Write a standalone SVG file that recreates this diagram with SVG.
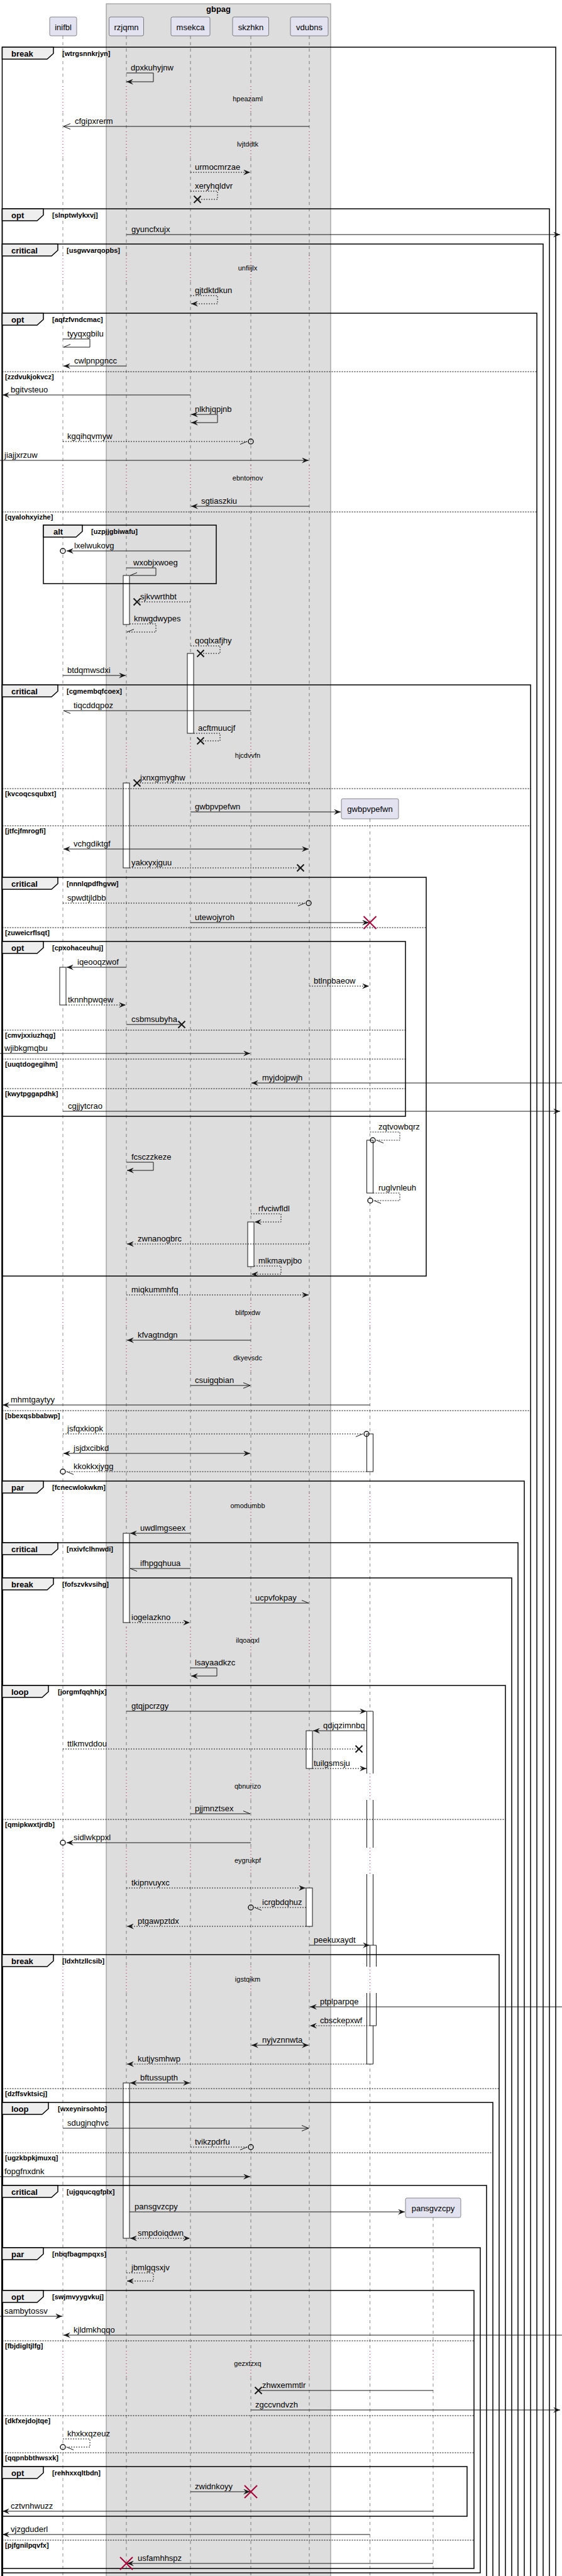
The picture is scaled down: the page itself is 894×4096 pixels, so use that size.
<svg xmlns="http://www.w3.org/2000/svg" width="894" height="4096" viewBox="0 0 894 4096">
<style>
text{font-family:"Liberation Sans",Arial,sans-serif;fill:#000}
.p{font-size:13px;text-anchor:middle}
.m{font-size:13px}
.d{font-size:11px;text-anchor:middle}
.k{font-size:13px;font-weight:bold}
.g{font-size:11px;font-weight:bold}
.pb{fill:#E2E2F0;stroke:#181818;stroke-width:0.5}
.ll{stroke:#181818;stroke-width:0.5;stroke-dasharray:5,5;fill:none}
.dl{stroke:#A80036;stroke-width:1;stroke-dasharray:1,4;fill:none}
.fr{fill:none;stroke:#000;stroke-width:1.5}
.tab{fill:#EEEEEE;stroke:#000;stroke-width:1.5}
.sep{stroke:#000;stroke-width:1;stroke-dasharray:2,2;fill:none}
.ms{fill:none;stroke:#181818;stroke-width:1}
.ds{stroke-dasharray:2,2}
.af{fill:#fff;stroke:none}
.as{fill:none;stroke:#181818;stroke-width:1}
.x{stroke:#181818;stroke-width:2;fill:none}
.rx{stroke:#A80036;stroke-width:2;fill:none}
.c{fill:none;stroke:#181818;stroke-width:1.5}
</style>
<defs>
<marker id="f" viewBox="0 0 11 9" refX="11" refY="4.5" markerWidth="11" markerHeight="9" markerUnits="userSpaceOnUse" orient="auto-start-reverse"><path d="M0,0L11,4.5L0,9L4,4.5Z" fill="#181818"/></marker>
<marker id="o" viewBox="0 0 11 9" refX="11" refY="4.5" markerWidth="11" markerHeight="9" markerUnits="userSpaceOnUse" orient="auto" style="overflow:visible"><path d="M0,0L11,4.5L0,9" fill="none" stroke="#181818" stroke-width="1"/></marker>
<marker id="hu" viewBox="0 0 11 9" refX="11" refY="4.5" markerWidth="11" markerHeight="9" markerUnits="userSpaceOnUse" orient="auto" style="overflow:visible"><path d="M0,0L11,4.5" fill="none" stroke="#181818" stroke-width="1"/></marker>
<marker id="hl" viewBox="0 0 11 9" refX="11" refY="4.5" markerWidth="11" markerHeight="9" markerUnits="userSpaceOnUse" orient="auto" style="overflow:visible"><path d="M0,9L11,4.5" fill="none" stroke="#181818" stroke-width="1"/></marker>
<path id="lm" d="M0,57V137M0,179V209M0,251V406M0,448V740M0,782V1181M0,1223V2067M0,2109V2139M0,2181V2374M0,2416V2588M0,2630V2820M0,2862V2938M0,2980V3127M0,3169V3738M0,3780V4096"/>
<path id="dm" d="M0,137V179M0,209V251M0,406V448M0,740V782M0,1181V1223M0,2067V2109M0,2139V2181M0,2374V2416M0,2588V2630M0,2820V2862M0,2938V2980M0,3127V3169M0,3738V3780"/>
<path id="lg" d="M0,1302V2067M0,2109V2139M0,2181V2374M0,2416V2588M0,2630V2820M0,2862V2938M0,2980V3127M0,3169V3738M0,3780V4096"/>
<path id="dg" d="M0,2067V2109M0,2139V2181M0,2374V2416M0,2588V2630M0,2820V2862M0,2938V2980M0,3127V3169M0,3738V3780"/>
</defs>
<rect width="894" height="4096" fill="#fff"/>
<g id="gbpag">
<rect x="169" y="6" width="357" height="4100" fill="#DDDDDD" stroke="#888" stroke-width="1"/>
<text class="k" x="347.5" y="19" text-anchor="middle">gbpag</text>
</g>
<g id="lifelines">
<use href="#lm" x="100" class="ll"/>
<use href="#lm" x="201" class="ll"/>
<use href="#lm" x="303" class="ll"/>
<use href="#lm" x="399" class="ll"/>
<use href="#lm" x="492" class="ll"/>
<use href="#lg" x="588.5" class="ll"/>
<path class="ll" d="M689,3526V3738M689,3780V4096"/>
</g>
<g id="inifbl"><rect class="pb" x="79" y="27" width="43" height="30" rx="2.5"/><text class="p" x="100.5" y="48">inifbl</text></g>
<g id="rzjqmn"><rect class="pb" x="173.5" y="27" width="55" height="30" rx="2.5"/><text class="p" x="201" y="48">rzjqmn</text></g>
<g id="msekca"><rect class="pb" x="272" y="27" width="62" height="30" rx="2.5"/><text class="p" x="303" y="48">msekca</text></g>
<g id="skzhkn"><rect class="pb" x="370" y="27" width="57.5" height="30" rx="2.5"/><text class="p" x="399" y="48">skzhkn</text></g>
<g id="vdubns"><rect class="pb" x="462" y="27" width="60" height="30" rx="2.5"/><text class="p" x="492" y="48">vdubns</text></g>
<g id="gwbpvpefwn"><rect class="pb" x="543" y="1270" width="91" height="32" rx="2.5"/><text class="p" x="588.5" y="1291">gwbpvpefwn</text></g>
<g id="pansgvzcpy"><rect class="pb" x="645" y="3495" width="88" height="31" rx="2.5"/><text class="p" x="689" y="3516">pansgvzcpy</text></g>
<g id="activations">
<rect class="af" x="196" y="915" width="10" height="78"/><rect class="as" x="196" y="915" width="10" height="78"/>
<rect class="af" x="298" y="1039" width="10" height="127"/><rect class="as" x="298" y="1039" width="10" height="127"/>
<rect class="af" x="196" y="1245" width="10" height="135"/><rect class="as" x="196" y="1245" width="10" height="135"/>
<rect class="af" x="95" y="1538" width="10" height="60"/><rect class="as" x="95" y="1538" width="10" height="60"/>
<rect class="af" x="583.5" y="1813" width="10" height="84"/><rect class="as" x="583.5" y="1813" width="10" height="84"/>
<rect class="af" x="394" y="1943" width="10" height="71"/><rect class="as" x="394" y="1943" width="10" height="71"/>
<rect class="af" x="583.5" y="2280" width="10" height="60"/><rect class="as" x="583.5" y="2280" width="10" height="60"/>
<rect class="af" x="196" y="2438" width="10" height="142"/><rect class="as" x="196" y="2438" width="10" height="142"/>
<rect class="af" x="583.5" y="2721" width="10" height="561"/>
<path class="as" d="M583.5,2721H593.5M583.5,3282H593.5M583.5,2721V2820M583.5,2862V2938M583.5,2980V3127M583.5,3169V3282M593.5,2721V2820M593.5,2862V2938M593.5,2980V3127M593.5,3169V3282"/>
<rect class="af" x="487" y="2752" width="10" height="60"/><rect class="as" x="487" y="2752" width="10" height="60"/>
<rect class="af" x="487" y="3002" width="10" height="61"/><rect class="as" x="487" y="3002" width="10" height="61"/>
<rect class="af" x="588.5" y="3093" width="10" height="128"/>
<path class="as" d="M588.5,3093H598.5M588.5,3221H598.5M588.5,3093V3127M588.5,3169V3221M598.5,3093V3127M598.5,3169V3221"/>
<rect class="af" x="196" y="3312" width="10" height="247"/><rect class="as" x="196" y="3312" width="10" height="247"/>
</g>
<g id="delays">
<use href="#dm" x="100" class="dl"/>
<use href="#dm" x="201" class="dl"/>
<use href="#dm" x="303" class="dl"/>
<use href="#dm" x="399" class="dl"/>
<use href="#dm" x="492" class="dl"/>
<use href="#dg" x="588.5" class="dl"/>
<path class="dl" d="M689,3738V3780"/>
<text class="d" x="394" y="161">hpeazaml</text>
<text class="d" x="394" y="233">lvjtddtk</text>
<text class="d" x="394" y="430">unfiijlx</text>
<text class="d" x="394" y="764">ebntomov</text>
<text class="d" x="394" y="1205">hjcdvvfn</text>
<text class="d" x="394" y="2091">blifpxdw</text>
<text class="d" x="394" y="2163">dkyevsdc</text>
<text class="d" x="394" y="2398">omodumbb</text>
<text class="d" x="394" y="2612">ilqoaqxl</text>
<text class="d" x="394" y="2844">qbnurizo</text>
<text class="d" x="394" y="2962">eygrukpf</text>
<text class="d" x="394" y="3151">igstqikm</text>
<text class="d" x="394" y="3762">gezxtzxq</text>
</g>
<g id="frames">
<rect class="fr" x="3.5" y="75" width="880.5" height="4100"/>
<polygon class="tab" points="3.5,75 85,75 85,85 75,94 3.5,94"/><text class="k" x="18" y="89.5">break</text><text class="g" x="99" y="88.5">[wtrgsnnkrjyn]</text>
<rect class="fr" x="3.5" y="332" width="870.5" height="4100"/>
<polygon class="tab" points="3.5,332 69,332 69,342 59,351 3.5,351"/><text class="k" x="18" y="346.5">opt</text><text class="g" x="83" y="345.5">[slnptwlykxvj]</text>
<rect class="fr" x="3.5" y="388" width="860.5" height="4100"/>
<polygon class="tab" points="3.5,388 92,388 92,398 82,407 3.5,407"/><text class="k" x="18" y="402.5">critical</text><text class="g" x="106" y="401.5">[usgwvarqopbs]</text>
<rect class="fr" x="3.5" y="498" width="850.5" height="4100"/>
<polygon class="tab" points="3.5,498 69,498 69,508 59,517 3.5,517"/><text class="k" x="18" y="512.5">opt</text><text class="g" x="83" y="511.5">[aqfzfvndcmac]</text>
<path class="sep" d="M3.5,591H854"/><text class="g" x="8" y="603">[zzdvukjokvcz]</text>
<path class="sep" d="M3.5,814H854"/><text class="g" x="8" y="826">[qyalohxyizhe]</text>
<rect class="fr" x="69" y="835" width="275" height="93"/>
<polygon class="tab" points="69,835 131,835 131,845 121,854 69,854"/><text class="k" x="85" y="849.5">alt</text><text class="g" x="145" y="848.5">[uzpjjgbiwafu]</text>
<rect class="fr" x="3.5" y="1089" width="840.5" height="4100"/>
<polygon class="tab" points="3.5,1089 92,1089 92,1099 82,1108 3.5,1108"/><text class="k" x="18" y="1103.5">critical</text><text class="g" x="106" y="1102.5">[cgmembqfcoex]</text>
<path class="sep" d="M3.5,1254H844"/><text class="g" x="8" y="1266">[kvcoqcsqubxt]</text>
<path class="sep" d="M3.5,1313H844"/><text class="g" x="8" y="1325">[jtfcjfmrogfi]</text>
<path class="sep" d="M3.5,2243H844"/><text class="g" x="8" y="2255">[bbexqsbbabwp]</text>
<rect class="fr" x="3.5" y="1395" width="674.5" height="634"/>
<polygon class="tab" points="3.5,1395 92,1395 92,1405 82,1414 3.5,1414"/><text class="k" x="18" y="1409.5">critical</text><text class="g" x="106" y="1408.5">[nnnlqpdfhgvw]</text>
<path class="sep" d="M3.5,1475H678"/><text class="g" x="8" y="1487">[zuweicrflsqt]</text>
<rect class="fr" x="3.5" y="1497" width="641.5" height="278"/>
<polygon class="tab" points="3.5,1497 69,1497 69,1507 59,1516 3.5,1516"/><text class="k" x="18" y="1511.5">opt</text><text class="g" x="83" y="1510.5">[cpxohaceuhuj]</text>
<path class="sep" d="M3.5,1638H645"/><text class="g" x="8" y="1650">[cmvjxxiuzhqg]</text>
<path class="sep" d="M3.5,1684H645"/><text class="g" x="8" y="1696">[uuqtdogegihm]</text>
<path class="sep" d="M3.5,1731H645"/><text class="g" x="8" y="1743">[kwytpggapdhk]</text>
<rect class="fr" x="3.5" y="2355" width="830.5" height="4100"/>
<polygon class="tab" points="3.5,2355 69,2355 69,2365 59,2374 3.5,2374"/><text class="k" x="18" y="2369.5">par</text><text class="g" x="83" y="2368.5">[fcnecwlokwkm]</text>
<rect class="fr" x="3.5" y="2453" width="820.5" height="4100"/>
<polygon class="tab" points="3.5,2453 92,2453 92,2463 82,2472 3.5,2472"/><text class="k" x="18" y="2467.5">critical</text><text class="g" x="106" y="2466.5">[nxivfclhnwdi]</text>
<rect class="fr" x="3.5" y="2509" width="810.5" height="4100"/>
<polygon class="tab" points="3.5,2509 85,2509 85,2519 75,2528 3.5,2528"/><text class="k" x="18" y="2523.5">break</text><text class="g" x="99" y="2522.5">[fofszvkvsihg]</text>
<rect class="fr" x="3.5" y="2680" width="800.5" height="4100"/>
<polygon class="tab" points="3.5,2680 77,2680 77,2690 67,2699 3.5,2699"/><text class="k" x="18" y="2694.5">loop</text><text class="g" x="92" y="2693.5">[jorgmfqqhhjx]</text>
<path class="sep" d="M3.5,2893H804"/><text class="g" x="8" y="2905">[qmipkwxtjrdb]</text>
<rect class="fr" x="3.5" y="3108" width="790.5" height="4100"/>
<polygon class="tab" points="3.5,3108 85,3108 85,3118 75,3127 3.5,3127"/><text class="k" x="18" y="3122.5">break</text><text class="g" x="99" y="3121.5">[ldxhtzllcsib]</text>
<path class="sep" d="M3.5,3321H794"/><text class="g" x="8" y="3333">[dzffsvktsicj]</text>
<rect class="fr" x="3.5" y="3343" width="780.5" height="4100"/>
<polygon class="tab" points="3.5,3343 77,3343 77,3353 67,3362 3.5,3362"/><text class="k" x="18" y="3357.5">loop</text><text class="g" x="92" y="3356.5">[wxeynirsohto]</text>
<path class="sep" d="M3.5,3423H784"/><text class="g" x="8" y="3435">[ugzkbpkjmuxq]</text>
<rect class="fr" x="3.5" y="3475" width="770.5" height="4100"/>
<polygon class="tab" points="3.5,3475 92,3475 92,3485 82,3494 3.5,3494"/><text class="k" x="18" y="3489.5">critical</text><text class="g" x="106" y="3488.5">[ujgqucqgfplx]</text>
<rect class="fr" x="3.5" y="3574" width="760.5" height="517"/>
<polygon class="tab" points="3.5,3574 69,3574 69,3584 59,3593 3.5,3593"/><text class="k" x="18" y="3588.5">par</text><text class="g" x="83" y="3587.5">[nbqfbagmpqxs]</text>
<rect class="fr" x="3.5" y="3642" width="750.5" height="442"/>
<polygon class="tab" points="3.5,3642 69,3642 69,3652 59,3661 3.5,3661"/><text class="k" x="18" y="3656.5">opt</text><text class="g" x="83" y="3655.5">[swjmvyygvkuj]</text>
<path class="sep" d="M3.5,3722H754"/><text class="g" x="8" y="3734">[fbjdigltjlfg]</text>
<path class="sep" d="M3.5,3841H754"/><text class="g" x="8" y="3853">[dkfxejdojtqe]</text>
<path class="sep" d="M3.5,3900H754"/><text class="g" x="8" y="3912">[qqpnbbthwsxk]</text>
<path class="sep" d="M3.5,4039H754"/><text class="g" x="8" y="4051">[pjfgnilpqvfx]</text>
<rect class="fr" x="3.5" y="3922" width="739.5" height="79"/>
<polygon class="tab" points="3.5,3922 69,3922 69,3932 59,3941 3.5,3941"/><text class="k" x="18" y="3936.5">opt</text><text class="g" x="83" y="3935.5">[rehhxxqltbdn]</text>
</g>
<g id="connectors">
<path class="ms" d="M201,116H244V130H201" marker-end="url(#f)"/><text class="m" x="208" y="112">dpxkuhyjnw</text>
<path class="ms" d="M492,201H101" marker-end="url(#o)"/><text class="m" x="119" y="197">cfgipxrerm</text>
<path class="ms ds" d="M303,274H398" marker-end="url(#f)"/><text class="m" x="310" y="270">urmocmrzae</text>
<path class="ms ds" d="M303,304H346V317H314"/><path class="x" d="M308.5,311.5l11,11m0,-11l-11,11"/><text class="m" x="310" y="300">xeryhqldvr</text>
<path class="ms" d="M201,373H891" marker-end="url(#f)"/><text class="m" x="209" y="369">gyuncfxujx</text>
<path class="ms ds" d="M303,470H346V483H304" marker-end="url(#f)"/><text class="m" x="310" y="466">gjtdktdkun</text>
<path class="ms" d="M100,539H143V552H101" marker-end="url(#hl)"/><text class="m" x="107" y="535">tyyqxgbilu</text>
<path class="ms" d="M201,582H101" marker-end="url(#f)"/><text class="m" x="118" y="578">cwlpnpgncc</text>
<path class="ms" d="M303,628H4" marker-end="url(#f)"/><text class="m" x="17" y="624">bgitvsteuo</text>
<path class="ms" d="M304,659H346V672H304" marker-start="url(#f)" marker-end="url(#f)"/><text class="m" x="310" y="655">nlkhjqpjnb</text>
<path class="ms ds" d="M100,702H393" marker-end="url(#hl)"/><circle class="c" cx="399" cy="702" r="4"/><text class="m" x="107" y="698">kgqihqvmyw</text>
<path class="ms" d="M0,732H491" marker-end="url(#f)"/><text class="m" x="7" y="728">jiajjxrzuw</text>
<path class="ms" d="M492,805H304" marker-end="url(#f)"/><text class="m" x="320" y="801">sgtiaszkiu</text>
<path class="ms" d="M303,876H106" marker-end="url(#f)"/><circle class="c" cx="100" cy="876" r="4"/><text class="m" x="118" y="872">lxelwukovg</text>
<path class="ms" d="M201,903H248V915H207" marker-end="url(#hl)"/><text class="m" x="212" y="899">wxobjxwoeg</text>
<path class="ms ds" d="M303,957H218"/><path class="x" d="M212.5,951.5l11,11m0,-11l-11,11"/><text class="m" x="223" y="953">sjkvwrthbt</text>
<path class="ms ds" d="M206,992H248V1005H202" marker-end="url(#hl)"/><text class="m" x="213" y="988">knwgdwypes</text>
<path class="ms ds" d="M303,1027H350V1039H319"/><path class="x" d="M313.5,1033.5l11,11m0,-11l-11,11"/><text class="m" x="310" y="1023">qoqlxafjhy</text>
<path class="ms" d="M100,1074H200" marker-end="url(#f)"/><text class="m" x="107" y="1070">btdqmwsdxi</text>
<path class="ms" d="M399,1130H101" marker-end="url(#hu)"/><text class="m" x="117" y="1126">tiqcddqpoz</text>
<path class="ms ds" d="M308,1166H350V1178H319"/><path class="x" d="M313.5,1172.5l11,11m0,-11l-11,11"/><text class="m" x="315" y="1162">acftmuucjf</text>
<path class="ms ds" d="M492,1245H218"/><path class="x" d="M212.5,1239.5l11,11m0,-11l-11,11"/><text class="m" x="223" y="1241">jxnxgmyghw</text>
<path class="ms" d="M303,1291H542" marker-end="url(#f)"/><text class="m" x="310" y="1287">gwbpvpefwn</text>
<path class="ms" d="M101,1350H491" marker-start="url(#f)" marker-end="url(#f)"/><text class="m" x="117" y="1346">vchgdiktgf</text>
<path class="ms ds" d="M206,1380H478"/><path class="x" d="M472.5,1374.5l11,11m0,-11l-11,11"/><text class="m" x="209" y="1376">yakxyxjguu</text>
<path class="ms ds" d="M100,1436H485" marker-end="url(#hl)"/><circle class="c" cx="491" cy="1436" r="4"/><text class="m" x="107" y="1432">spwdtjldbb</text>
<path class="ms" d="M303,1467H587" marker-end="url(#f)"/><path class="rx" d="M578.5,1457l20,20m0,-20l-20,20"/><text class="m" x="310" y="1463">utewojyroh</text>
<path class="ms" d="M201,1538H106" marker-end="url(#f)"/><text class="m" x="123" y="1534">iqeooqzwof</text>
<path class="ms ds" d="M492,1568H587" marker-end="url(#f)"/><text class="m" x="499" y="1564">btlnpbaeow</text>
<path class="ms ds" d="M105,1598H200" marker-end="url(#f)"/><text class="m" x="108" y="1594">tknnhpwqew</text>
<path class="ms" d="M201,1629H289"/><path class="x" d="M283.5,1623.5l11,11m0,-11l-11,11"/><text class="m" x="209" y="1625">csbmsubyha</text>
<path class="ms" d="M0,1675H398" marker-end="url(#f)"/><text class="m" x="7" y="1671">wjibkgmqbu</text>
<path class="ms" d="M894,1722H400" marker-end="url(#f)"/><text class="m" x="417" y="1718">myjdojpwjh</text>
<path class="ms" d="M100,1767H891" marker-end="url(#f)"/><text class="m" x="108" y="1763">cgjjytcrao</text>
<path class="ms ds" d="M588.5,1800H636V1813H599" marker-end="url(#hu)"/><circle class="c" cx="593" cy="1813" r="4"/><text class="m" x="602" y="1796">zqtvowbqrz</text>
<path class="ms" d="M201,1848H244V1861H202" marker-end="url(#f)"/><text class="m" x="209" y="1844">fcsczzkeze</text>
<path class="ms ds" d="M593.5,1897H636V1909H595" marker-end="url(#hu)"/><circle class="c" cx="589" cy="1909" r="4"/><text class="m" x="602" y="1893">ruglvnleuh</text>
<path class="ms ds" d="M399,1930H447V1943H405" marker-end="url(#f)"/><text class="m" x="411" y="1926">rfvciwfldl</text>
<path class="ms ds" d="M492,1978H202" marker-end="url(#f)"/><text class="m" x="219" y="1974">zwnanogbrc</text>
<path class="ms ds" d="M404,2013H447V2026H400" marker-end="url(#f)"/><text class="m" x="411" y="2009">mlkmavpjbo</text>
<path class="ms ds" d="M201,2059H491" marker-end="url(#f)"/><text class="m" x="209" y="2055">miqkummhfq</text>
<path class="ms" d="M399,2131H202" marker-end="url(#f)"/><text class="m" x="219" y="2127">kfvagtndgn</text>
<path class="ms" d="M303,2203H398" marker-end="url(#o)"/><text class="m" x="310" y="2199">csuigqbian</text>
<path class="ms" d="M588.5,2234H4" marker-end="url(#f)"/><text class="m" x="17" y="2230">mhmtgaytyy</text>
<path class="ms ds" d="M100,2280H577" marker-end="url(#hl)"/><circle class="c" cx="583" cy="2280" r="4"/><text class="m" x="107" y="2276">jsfqxkiopk</text>
<path class="ms" d="M101,2311H398" marker-start="url(#f)" marker-end="url(#f)"/><text class="m" x="117" y="2307">jsjdxcibkd</text>
<path class="ms ds" d="M583.5,2340H106" marker-end="url(#hu)"/><circle class="c" cx="100" cy="2340" r="4"/><text class="m" x="117" y="2336">kkokkxjygg</text>
<path class="ms" d="M303,2438H207" marker-end="url(#f)"/><text class="m" x="223" y="2434">uwdlmgseex</text>
<path class="ms" d="M303,2494H207" marker-end="url(#hu)"/><text class="m" x="223" y="2490">ifhpgqhuua</text>
<path class="ms" d="M399,2549H491" marker-end="url(#hu)"/><text class="m" x="406" y="2545">ucpvfokpay</text>
<path class="ms ds" d="M206,2580H302" marker-end="url(#f)"/><text class="m" x="209" y="2576">iogelazkno</text>
<path class="ms" d="M303,2652H345V2665H304" marker-end="url(#f)"/><text class="m" x="310" y="2648">lsayaadkzc</text>
<path class="ms" d="M201,2721H583" marker-end="url(#f)"/><text class="m" x="209" y="2717">gtqjpcrzgy</text>
<path class="ms" d="M583.5,2752H498" marker-end="url(#f)"/><text class="m" x="514" y="2748">qdjqzimnbq</text>
<path class="ms ds" d="M100,2781H571"/><path class="x" d="M565.5,2775.5l11,11m0,-11l-11,11"/><text class="m" x="107" y="2777">ttlkmvddou</text>
<path class="ms ds" d="M497,2812H583" marker-end="url(#f)"/><text class="m" x="499" y="2808">tuilgsmsju</text>
<path class="ms" d="M303,2884H398" marker-end="url(#hu)"/><text class="m" x="310" y="2880">pjjmnztsex</text>
<path class="ms" d="M399,2930H106" marker-end="url(#f)"/><circle class="c" cx="100" cy="2930" r="4"/><text class="m" x="117" y="2926">sidlwkppxl</text>
<path class="ms ds" d="M201,3002H486" marker-end="url(#f)"/><text class="m" x="209" y="2998">tkipnvuyxc</text>
<path class="ms ds" d="M487,3033H405" marker-end="url(#hu)"/><circle class="c" cx="399" cy="3033" r="4"/><text class="m" x="417" y="3029">icrgbdqhuz</text>
<path class="ms ds" d="M487,3063H202" marker-end="url(#f)"/><text class="m" x="219" y="3059">ptgawpztdx</text>
<path class="ms" d="M492,3093H588" marker-end="url(#f)"/><text class="m" x="499" y="3089">peekuxaydt</text>
<path class="ms" d="M894,3191H493" marker-end="url(#f)"/><text class="m" x="509" y="3187">ptplparpqe</text>
<path class="ms ds" d="M588.5,3221H493" marker-end="url(#f)"/><text class="m" x="509" y="3217">cbsckepxwf</text>
<path class="ms" d="M400,3252H491" marker-start="url(#f)" marker-end="url(#f)"/><text class="m" x="417" y="3248">nyjvznnwta</text>
<path class="ms ds" d="M583.5,3282H202" marker-end="url(#f)"/><text class="m" x="219" y="3278">kutjysmhwp</text>
<path class="ms" d="M207,3312H302" marker-start="url(#f)" marker-end="url(#f)"/><text class="m" x="223" y="3308">bftussupth</text>
<path class="ms" d="M100,3384H491" marker-end="url(#o)"/><text class="m" x="107" y="3380">sdugjnqhvc</text>
<path class="ms ds" d="M303,3414H393" marker-end="url(#hl)"/><circle class="c" cx="399" cy="3414" r="4"/><text class="m" x="310" y="3410">tvikzpdrfu</text>
<path class="ms" d="M0,3461H398" marker-end="url(#f)"/><text class="m" x="7" y="3457">fopgfnxdnk</text>
<path class="ms" d="M206,3517H644" marker-end="url(#f)"/><text class="m" x="214" y="3513">pansgvzcpy</text>
<path class="ms ds" d="M207,3559H302" marker-start="url(#f)" marker-end="url(#f)"/><text class="m" x="219" y="3555">smpdoiqdwn</text>
<path class="ms ds" d="M201,3614H244V3627H202" marker-end="url(#f)"/><text class="m" x="209" y="3610">jbmlgqsxjv</text>
<path class="ms" d="M0,3683H99" marker-end="url(#f)"/><text class="m" x="7" y="3679">sambytossv</text>
<path class="ms" d="M894,3713H101" marker-end="url(#f)"/><text class="m" x="117" y="3709">kjldmkhqqo</text>
<path class="ms" d="M689,3801H411"/><path class="x" d="M405.5,3795.5l11,11m0,-11l-11,11"/><text class="m" x="417" y="3797">zhwxemmtlr</text>
<path class="ms" d="M399,3832H891" marker-end="url(#f)"/><text class="m" x="406" y="3828">zgccvndvzh</text>
<path class="ms ds" d="M100,3878H143V3891H106" marker-end="url(#hu)"/><circle class="c" cx="100" cy="3891" r="4"/><text class="m" x="107" y="3874">khxkxqzeuz</text>
<path class="ms" d="M303,3962H398" marker-end="url(#f)"/><path class="rx" d="M389,3952l20,20m0,-20l-20,20"/><text class="m" x="310" y="3958">zwidnkoyy</text>
<path class="ms" d="M689,3993H4" marker-end="url(#f)"/><text class="m" x="17" y="3989">cztvnhwuzz</text>
<path class="ms" d="M588.5,4030H4" marker-end="url(#f)"/><text class="m" x="17" y="4026">vjzgduderl</text>
<path class="ms" d="M689,4076H202" marker-end="url(#f)"/><path class="rx" d="M191,4066l20,20m0,-20l-20,20"/><text class="m" x="219" y="4072">usfamhhspz</text>
</g>
</svg>
